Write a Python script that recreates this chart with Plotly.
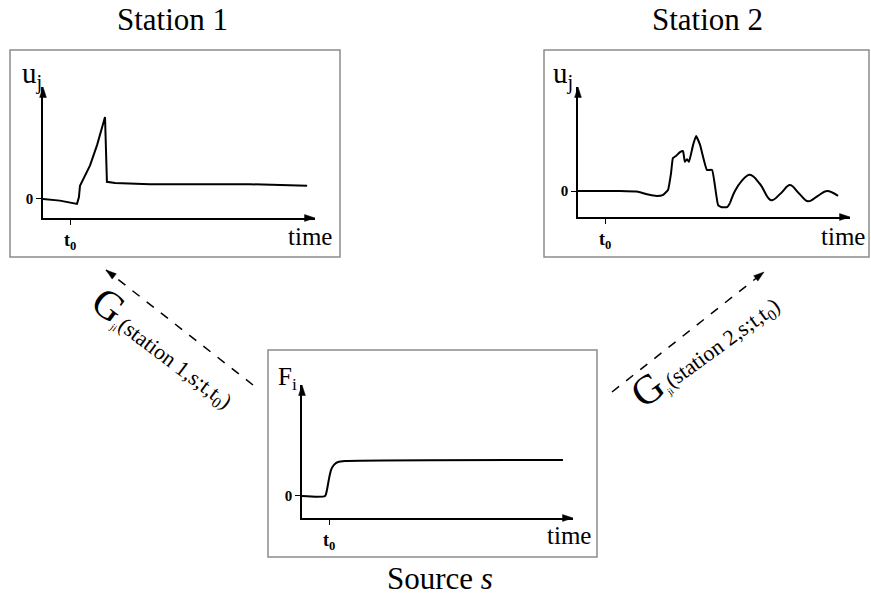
import plotly.graph_objects as go

W, H = 871, 599
SERIF = "Liberation Serif"

# ---------------- data (arbitrary units) ----------------
# Station 1 displacement u_j(t)
st1_t = [0.0, 0.62, 1.25, 1.32, 1.36, 1.51, 1.73, 1.99, 2.28, 2.35, 2.65, 3.93, 7.61, 9.71]
st1_u = [0.0, -0.02, -0.06, 0.02, 0.16, 0.26, 0.41, 0.66, 1.0, 0.21, 0.195, 0.18, 0.18, 0.16]

# Station 2 displacement u_j(t): onset and main (jagged) arrival
st2_t = [0.0, 1.54, 2.17, 2.54, 2.90, 3.13, 3.31, 3.42, 3.49, 3.60, 3.75, 3.86, 3.93,
         4.01, 4.08, 4.23, 4.34, 4.49, 4.60, 4.74, 4.93, 5.15, 5.29, 5.48, 5.59]
st2_u = [0.0, 0.0, -0.01, -0.06, -0.09, -0.07, 0.02, 0.33, 0.61, 0.65, 0.72, 0.74, 0.54,
         0.59, 0.54, 0.85, 1.02, 0.85, 0.63, 0.39, 0.39, -0.26, -0.30, -0.30, -0.22]
# Station 2 displacement u_j(t): later oscillating coda
st2_coda_t = [5.59, 5.77, 5.99, 6.32, 6.69, 7.10, 7.46, 7.79, 8.12, 8.46, 8.82, 9.15, 9.56]
st2_coda_u = [-0.22, 0.0, 0.17, 0.30, 0.13, -0.17, -0.04, 0.11, -0.04, -0.19, -0.09, 0.0, -0.09]

# Source force F_i(t)
src_t = [0.0, 0.85, 0.92, 1.0, 1.07, 1.18, 1.33, 1.59, 9.63]
src_f = [0.0, 0.0, 0.17, 0.51, 0.74, 0.89, 0.97, 1.0, 1.03]

t0 = 1.0
x_ticks = [t0]
x_ticktext = ["<b>t<sub>0</sub></b>"]
y_ticks = [0]
y_ticktext = ["<b>0</b>"]

titles = ["Station 1", "Station 2", "Source <i>s</i>"]
ylabels = ["u<sub>j</sub>", "u<sub>j</sub>", "F<sub>i</sub>"]

# ---------------- layout helpers (pixel -> paper) ----------------
def X(px):
    return px / W

def Y(py):
    return 1 - py / H

# panel geometry: origin (px,py), x tip px, y tip py, y range, frame box
panels = [
    dict(ox=43, oy=218, xt=315, yt=87, yr=[-0.232, 1.366], box=(10, 50, 340, 257)),
    dict(ox=578, oy=217, xt=850, yt=87, yr=[-0.481, 1.926], box=(544, 50, 869, 257)),
    dict(ox=302, oy=518, xt=573, yt=385, yr=[-0.629, 3.171], box=(268, 350, 597, 557)),
]
xr = [0, 10]

fig = go.Figure()
series = [
    (0, st1_t, st1_u, "linear", 0),
    (1, st2_t, st2_u, "spline", 0.35),
    (1, st2_coda_t, st2_coda_u, "spline", 1.1),
    (2, src_t, src_f, "spline", 0.6),
]
for i, tt, uu, shp, sm in series:
    n = "" if i == 0 else str(i + 1)
    line = dict(color="black", width=2, shape=shp)
    if shp == "spline":
        line["smoothing"] = sm
    fig.add_trace(go.Scatter(x=tt, y=uu, mode="lines", line=line,
                             xaxis="x" + n, yaxis="y" + n, showlegend=False,
                             hoverinfo="skip"))

layout = dict(width=W, height=H, margin=dict(l=0, r=0, t=0, b=0),
              paper_bgcolor="white", plot_bgcolor="rgba(0,0,0,0)",
              showlegend=False)
shapes = []
annotations = []
for i, p in enumerate(panels):
    n = "" if i == 0 else str(i + 1)
    axcommon = dict(showgrid=False, zeroline=False, fixedrange=True,
                    showline=True, linecolor="black", linewidth=1.5,
                    ticks="outside", ticklen=5, tickwidth=1.2, tickcolor="black")
    layout["xaxis" + n] = dict(axcommon, domain=[X(p["ox"]), X(p["xt"])], range=xr,
                               anchor="y" + n, tickvals=x_ticks, ticktext=x_ticktext,
                               tickfont=dict(family=SERIF, size=18, color="black"))
    layout["yaxis" + n] = dict(axcommon, domain=[Y(p["oy"]), Y(p["yt"])], range=p["yr"],
                               anchor="x" + n, tickvals=y_ticks, ticktext=y_ticktext,
                               tickfont=dict(family=SERIF, size=15, color="black"))
    # arrowheads at axis tips
    fig.add_trace(go.Scatter(x=[xr[1], xr[0]], y=[p["yr"][0], p["yr"][1]], mode="markers",
                             marker=dict(symbol="arrow", size=11, angle=[90, 0], color="black",
                                         line=dict(width=0.5, color="black")),
                             xaxis="x" + n, yaxis="y" + n, cliponaxis=False,
                             showlegend=False, hoverinfo="skip"))
    x0, y0, x1, y1 = p["box"]
    shapes.append(dict(type="rect", xref="paper", yref="paper",
                       x0=X(x0), x1=X(x1), y0=Y(y1), y1=Y(y0),
                       line=dict(color="#8c8c8c", width=1.5), layer="below"))

# overlay pixel axis for the dashed propagation arrows
layout["xaxis4"] = dict(domain=[0, 1], range=[0, W], visible=False, fixedrange=True,
                        anchor="y4")
layout["yaxis4"] = dict(domain=[0, 1], range=[H, 0], visible=False, fixedrange=True,
                        anchor="x4")
for xs, ys, ang in [([253, 106], [385, 270], -52), ([612, 764], [392, 272], 52)]:
    fig.add_trace(go.Scatter(x=xs, y=ys, mode="lines",
                             line=dict(color="black", width=1.5, dash="dash"),
                             xaxis="x4", yaxis="y4", cliponaxis=False,
                             showlegend=False, hoverinfo="skip"))
    fig.add_trace(go.Scatter(x=[xs[1]], y=[ys[1]], mode="markers",
                             marker=dict(symbol="arrow", size=11, angle=ang,
                                         color="black", line=dict(width=0.5, color="black")),
                             xaxis="x4", yaxis="y4", cliponaxis=False,
                             showlegend=False, hoverinfo="skip"))

# panel texts
txt = [
    (172, 20, titles[0], 31), (707, 20, titles[1], 31), (440, 578, titles[2], 31),
    (310, 237, "time", 25), (843, 237, "time", 25), (569, 535, "time", 25),
]
for x, y, s, fs in txt:
    annotations.append(dict(xref="paper", yref="paper", x=X(x), y=Y(y), text=s,
                            showarrow=False, xanchor="center", yanchor="middle",
                            font=dict(family=SERIF, size=fs, color="black")))
for (x, y), s, fs in zip([(32, 76), (563, 76), (287, 378)], ylabels, [29, 29, 25]):
    annotations.append(dict(xref="paper", yref="paper", x=X(x), y=Y(y), text=s,
                            showarrow=False, xanchor="center", yanchor="middle",
                            font=dict(family=SERIF, size=fs, color="black")))

g_lab = [
    (165, 347, 37, "1"),
    (704, 348, -36, "2"),
]
for x, y, ang, k in g_lab:
    s = ('<span style="font-size:41px">G</span><sub><span style="font-size:10px">ji</span></sub>'
         '(station %s,s;t,t<sub>0</sub>)' % k)
    annotations.append(dict(xref="paper", yref="paper", x=X(x), y=Y(y), text=s,
                            textangle=ang, showarrow=False, xanchor="center", yanchor="middle",
                            font=dict(family=SERIF, size=22, color="black")))

layout["shapes"] = shapes
layout["annotations"] = annotations
fig.update_layout(**layout)
fig.write_html("out.html")
